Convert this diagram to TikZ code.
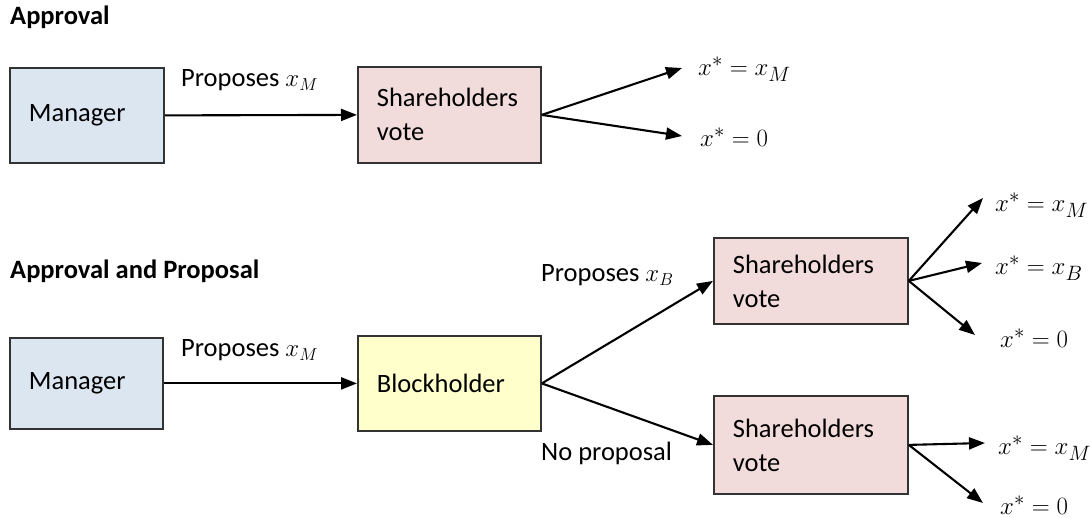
\documentclass[tikz,border=0pt]{standalone}
\usepackage{fontspec}
\setmainfont{Carlito}
\usetikzlibrary{arrows.meta}
\definecolor{mgr}{HTML}{DCE6F1}
\definecolor{shv}{HTML}{F2DCDB}
\definecolor{blk}{HTML}{FFFFCC}
\definecolor{edge}{HTML}{333333}
\begin{document}
\begin{tikzpicture}[x=1pt,y=-1pt,
  font=\fontsize{26.5}{34}\selectfont,
  box/.style={draw=edge, line width=1.8pt, rectangle, anchor=north west,
    inner xsep=19pt, inner ysep=0pt, align=left},
  arr/.style={-{Triangle[length=16pt,width=12pt]}, line width=2.1pt, draw=black},
  lbl/.style={anchor=west, inner sep=0pt},
  mlbl/.style={anchor=west, inner sep=0pt, font=\fontsize{27.5}{34}\selectfont},
  head/.style={anchor=west, inner sep=0pt, font=\fontsize{26.5}{32}\selectfont\bfseries}]
\useasboundingbox[fill=white] (0,0) rectangle (1092,518);

% headings
\node[head] (h1) at (10,17) {Approval};
\node[head] (h2) at (10,271) {Approval and Proposal};

% top diagram
\node[box, fill=mgr, text width=116pt, minimum height=95pt] (m1) at (9,67) {Manager};
\node[box, fill=shv, text width=145pt, minimum height=96pt] (s1) at (357,66) {Shareholders\\vote};
\draw[arr] (m1.east) -- (s1.west);
\node[lbl] (p1) at (181,80) {Proposes $x_M$};
\coordinate (t1a) at (682,68);
\coordinate (t1b) at (682,136);
\draw[arr] (s1.east) -- (t1a);
\draw[arr] (s1.east) -- (t1b);
\node[mlbl] (o1a) at (698,69) {$x^{*}=x_M$};
\node[mlbl] (o1b) at (700,137) {$x^{*}=0$};

% bottom diagram
\node[box, fill=mgr, text width=115pt, minimum height=91pt] (m2) at (9,337) {Manager};
\node[box, fill=blk, text width=145pt, minimum height=95pt] (b) at (357,335) {Blockholder};
\draw[arr] (m2.east) -- (b.west);
\node[lbl] (p2) at (181,350) {Proposes $x_M$};

\node[box, fill=shv, text width=156pt, minimum height=86pt] (s2) at (713,237) {Shareholders\\vote};
\node[box, fill=shv, text width=156pt, minimum height=98pt] (s3) at (713,395) {Shareholders\\vote};
\draw[arr] (b.east) -- (s2.west);
\draw[arr] (b.east) -- (s3.west);
\node[lbl] (p3) at (541,275) {Proposes $x_B$};
\node[lbl] (np) at (541,453) {No proposal};

\coordinate (t2a) at (983,198);
\coordinate (t2b) at (982,263);
\coordinate (t2c) at (975,335);
\draw[arr] (s2.east) -- (t2a);
\draw[arr] (s2.east) -- (t2b);
\draw[arr] (s2.east) -- (t2c);
\node[mlbl] (o2a) at (995,205) {$x^{*}=x_M$};
\node[mlbl] (o2b) at (995,268) {$x^{*}=x_B$};
\node[mlbl] (o2c) at (1000,338) {$x^{*}=0$};

\coordinate (t3a) at (985,443);
\coordinate (t3b) at (983,503);
\draw[arr] (s3.east) -- (t3a);
\draw[arr] (s3.east) -- (t3b);
\node[mlbl] (o3a) at (998,448) {$x^{*}=x_M$};
\node[mlbl] (o3b) at (1000,505) {$x^{*}=0$};
\end{tikzpicture}
\end{document}
